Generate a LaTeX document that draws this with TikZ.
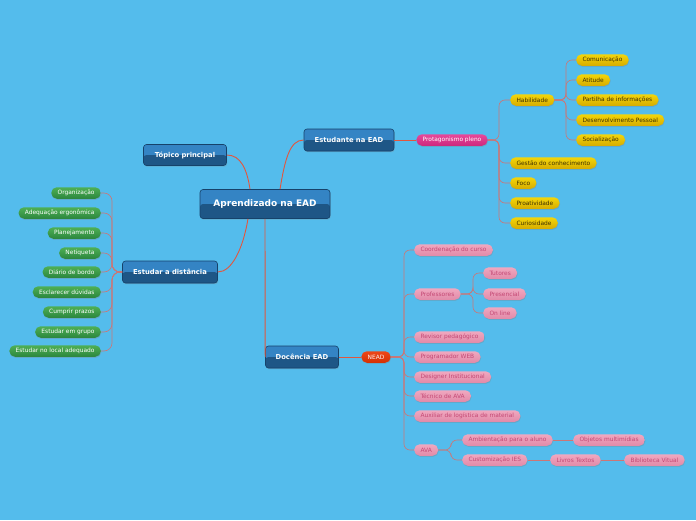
\documentclass[tikz,border=0pt]{standalone}
\usepackage{fontspec}
\setmainfont{DejaVu Sans}
\usepackage{tikz}
\usetikzlibrary{shadows,positioning}

\definecolor{bgblue}{RGB}{84,188,236}
\definecolor{bluetop}{RGB}{52,132,196}
\definecolor{bluebot}{RGB}{30,86,134}
\definecolor{bluerim}{RGB}{22,66,106}
\definecolor{linkred}{RGB}{226,86,62}
\definecolor{linksub}{RGB}{204,118,118}
\definecolor{greentop}{RGB}{78,176,84}
\definecolor{greenbot}{RGB}{44,134,62}
\definecolor{yeltop}{RGB}{244,214,10}
\definecolor{yelbot}{RGB}{214,172,0}
\definecolor{yeltext}{RGB}{64,50,0}
\definecolor{magtop}{RGB}{232,72,154}
\definecolor{magbot}{RGB}{204,40,126}
\definecolor{pinktop}{RGB}{240,168,192}
\definecolor{pinkbot}{RGB}{226,138,168}
\definecolor{pinktext}{RGB}{196,72,116}
\definecolor{neadtop}{RGB}{238,72,24}
\definecolor{neadbot}{RGB}{212,48,4}

\begin{document}
\begin{tikzpicture}[x=1pt,y=-1pt,
  topic/.style={draw=bluerim, line width=0.6pt, rounded corners=3pt, fill=bluetop,
    text=white, font=\bfseries\fontsize{6.8}{7}\selectfont, inner sep=0pt,
    path picture={\fill[bluebot] (path picture bounding box.west) rectangle (path picture bounding box.south east);},
    drop shadow={opacity=0.3, shadow xshift=0.6pt, shadow yshift=-1.2pt}},
  leaf/.style={rounded corners=5.5pt, minimum height=11.5, inner xsep=6.3pt, inner ysep=0pt,
    font=\fontsize{5.9}{6}\selectfont,
    drop shadow={opacity=0.3, shadow xshift=0.5pt, shadow yshift=-1pt}},
  greenleaf/.style={leaf, top color=greentop, bottom color=greenbot, text=white, anchor=east},
  yellowleaf/.style={leaf, top color=yeltop, bottom color=yelbot, text=yeltext, anchor=west},
  pinkleaf/.style={leaf, top color=pinktop, bottom color=pinkbot, text=pinktext, anchor=west},
  link/.style={draw=linkred, line width=0.9pt},
  sublink/.style={draw=linksub, line width=0.6pt, rounded corners=6pt}
]
  \fill[bgblue] (0,0) rectangle (696,520);
  \useasboundingbox (0,0) rectangle (696,520);

  % central topic and main branches
  \node[topic, minimum width=130, minimum height=29, font=\bfseries\fontsize{9}{10}\selectfont] (main) at (265,204) {Aprendizado na EAD};
  \node[topic, minimum width=83, minimum height=21] (topico) at (185,155) {Tópico principal};
  \node[topic, minimum width=90, minimum height=22] (estudante) at (349,140) {Estudante na EAD};
  \node[topic, minimum width=95, minimum height=22] (distancia) at (170,272) {Estudar a distância};
  \node[topic, minimum width=73, minimum height=22] (docencia) at (302,357) {Docência EAD};

  \draw[link] ([xshift=-15]main.north) .. controls +(-3,-20) and +(14,0) .. (topico.east);
  \draw[link] ([xshift=15]main.north) .. controls +(5,-30) and +(-14,0) .. (estudante.west);
  \draw[link] ([xshift=-17]main.south) .. controls +(-5,30) and +(14,0) .. (distancia.east);
  \draw[link] (main.south) -- (docencia.west);

  % Estudante na EAD
  \node[leaf, top color=magtop, bottom color=magbot, text=white] (protag) at (452,140) {Protagonismo pleno};
  \draw[link] (estudante.east) -- (protag.west);

  \node[yellowleaf] (habil) at (510,100) {Habilidade};
  \node[yellowleaf] (gestao) at (510,163) {Gestão do conhecimento};
  \node[yellowleaf] (foco) at (510,183) {Foco};
  \node[yellowleaf] (proativ) at (510,203) {Proatividade};
  \node[yellowleaf] (curios) at (510,223) {Curiosidade};

  \node[yellowleaf] (comun) at (576,60) {Comunicação};
  \node[yellowleaf] (atit) at (576,80) {Atitude};
  \node[yellowleaf] (partilha) at (576,100) {Partilha de informações};
  \node[yellowleaf] (desenv) at (576,120) {Desenvolvimento Pessoal};
  \node[yellowleaf] (social) at (576,140) {Socialização};

  \coordinate (jprotag) at (499,140);
  \coordinate (jhabil) at (566,100);
  \foreach \c in {habil,gestao,foco,proativ,curios}
    \draw[sublink] (protag.east) -- (jprotag) |- (\c.west);
  \foreach \c in {comun,atit,partilha,desenv,social}
    \draw[sublink] (habil.east) -- (jhabil) |- (\c.west);

  % Estudar a distancia
  \node[greenleaf] (organiz) at (101,193) {Organização};
  \node[greenleaf] (adequa) at (101,213) {Adequação ergonômica};
  \node[greenleaf] (planej) at (101,233) {Planejamento};
  \node[greenleaf] (netiq) at (101,253) {Netiqueta};
  \node[greenleaf] (diario) at (101,272) {Diário de bordo};
  \node[greenleaf] (esclar) at (101,292) {Esclarecer dúvidas};
  \node[greenleaf] (cumprir) at (101,312) {Cumprir prazos};
  \node[greenleaf] (grupo) at (101,332) {Estudar em grupo};
  \node[greenleaf] (local) at (101,351) {Estudar no local adequado};

  \coordinate (jdist) at (112,272);
  \foreach \c in {organiz,adequa,planej,netiq,diario,esclar,cumprir,grupo,local}
    \draw[sublink, rounded corners=8pt] (distancia.west) -- (jdist) |- (\c.east);

  % Docencia EAD
  \node[leaf, top color=neadtop, bottom color=neadbot, text=white!85!pink] (nead) at (376,357) {NEAD};
  \draw[link] (docencia.east) -- (nead.west);

  \node[pinkleaf] (coord) at (414,250) {Coordenação do curso};
  \node[pinkleaf] (profs) at (414,294) {Professores};
  \node[pinkleaf] (revisor) at (414,337) {Revisor pedagógico};
  \node[pinkleaf] (program) at (414,357) {Programador WEB};
  \node[pinkleaf] (designer) at (414,377) {Designer Institucional};
  \node[pinkleaf] (tecnico) at (414,396) {Técnico de AVA};
  \node[pinkleaf] (auxiliar) at (414,416) {Auxiliar de logística de material};
  \node[pinkleaf] (ava) at (414,450) {AVA};

  \node[pinkleaf] (tutores) at (483,273) {Tutores};
  \node[pinkleaf] (presenc) at (483,294) {Presencial};
  \node[pinkleaf] (online) at (483,313) {On line};

  \node[pinkleaf] (ambient) at (462,440) {Ambientação para o aluno};
  \node[pinkleaf] (custom) at (462,460) {Customização IES};
  \node[pinkleaf] (objetos) at (573,440) {Objetos multimídias};
  \node[pinkleaf] (livros) at (550,460) {Livros Textos};
  \node[pinkleaf] (biblio) at (624,460) {Biblioteca Vitual};

  \coordinate (jnead) at (404,357);
  \coordinate (jprofs) at (473,294);
  \coordinate (java) at (451,450);
  \foreach \c in {coord,profs,revisor,program,designer,tecnico,auxiliar,ava}
    \draw[sublink] (nead.east) -- (jnead) |- (\c.west);
  \foreach \c in {tutores,presenc,online}
    \draw[sublink] (profs.east) -- (jprofs) |- (\c.west);
  \foreach \c in {ambient,custom}
    \draw[sublink] (ava.east) -- (java) |- (\c.west);
  \draw[sublink] (ambient.east) -- (objetos.west);
  \draw[sublink] (custom.east) -- (livros.west);
  \draw[sublink] (livros.east) -- (biblio.west);
\end{tikzpicture}
\end{document}
